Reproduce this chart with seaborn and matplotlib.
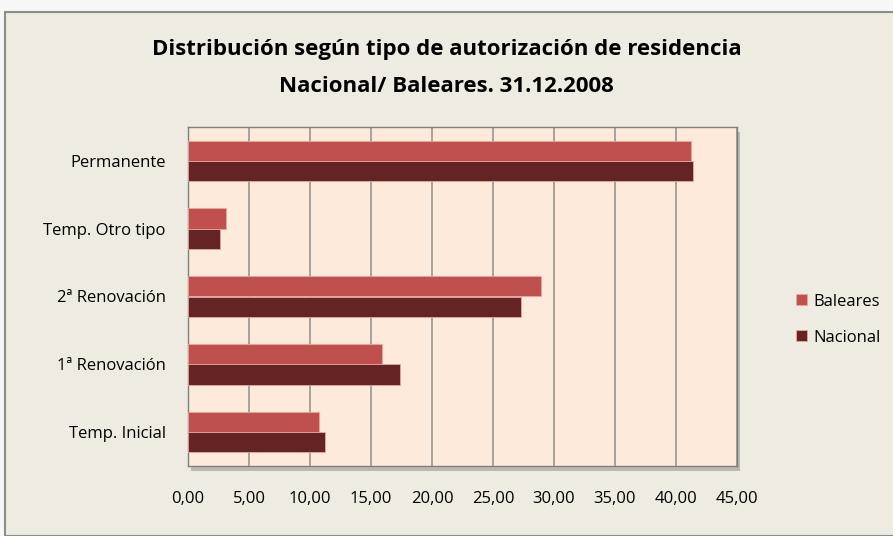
import matplotlib
matplotlib.use("Agg")
import matplotlib.pyplot as plt
from matplotlib.patches import Rectangle
from matplotlib.ticker import FuncFormatter
import seaborn as sns
import pandas as pd

# Values (percentages)
categories = ["Permanente", "Temp. Otro tipo", "2ª Renovación", "1ª Renovación", "Temp. Inicial"]
baleares = [41.2, 3.1, 28.9, 15.9, 10.7]
nacional = [41.4, 2.6, 27.3, 17.4, 11.2]
series = ["Baleares", "Nacional"]
colors = ["#C0504D", "#632423"]
x_ticks = [0, 5, 10, 15, 20, 25, 30, 35, 40, 45]

df = pd.DataFrame({
    "tipo": categories * 2,
    "valor": baleares + nacional,
    "serie": [series[0]] * len(categories) + [series[1]] * len(categories),
})

sns.set_style("white")
plt.rcParams["font.family"] = ["Open Sans", "DejaVu Sans"]
plt.rcParams["text.color"] = "black"
plt.rcParams["xtick.color"] = "black"
plt.rcParams["ytick.color"] = "black"

fig = plt.figure(figsize=(8.93, 5.36), dpi=100, facecolor="#F7F7F7")
# chart area background with grey frame
fig.patches.append(Rectangle((5 / 893, 0), 1.0, 1 - 12 / 536, transform=fig.transFigure,
                             facecolor="#EEECE1", edgecolor="#8C8C8C", lw=1.5, zorder=-2))
# soft shadow behind plot area
fig.patches.append(Rectangle((191 / 893, 1 - 471 / 536), 549 / 893, 339 / 536, transform=fig.transFigure,
                             facecolor="#9A9A92", edgecolor="none", alpha=0.6, zorder=-1))

ax = fig.add_axes([188 / 893, 1 - 466 / 536, 549 / 893, 339 / 536])
ax.set_facecolor("#FDEADA")

sns.barplot(data=df, x="valor", y="tipo", hue="serie", order=categories, hue_order=series,
            palette=colors, saturation=1, orient="h", width=0.6, ax=ax, legend=True,
            edgecolor="#E8A8A0", linewidth=0.6, zorder=3)

ax.set_xlim(0, 45)
ax.set_ylim(4.5, -0.5)
ax.set_xticks(x_ticks)
ax.xaxis.set_major_formatter(FuncFormatter(lambda v, p: f"{v:.2f}".replace(".", ",")))
ax.grid(axis="x", color="#A6A29C", lw=1.4, zorder=1)
ax.set_axisbelow(True)
ax.tick_params(axis="both", length=0, labelsize=12, labelcolor="black")
ax.tick_params(axis="x", pad=18)
ax.tick_params(axis="y", pad=16)
ax.set_xlabel("")
ax.set_ylabel("")
for s in ax.spines.values():
    s.set_color("#7F7F7F")
    s.set_linewidth(1.0)

leg = ax.legend(loc="center left", bbox_to_anchor=(1.08, 0.432), frameon=False,
                fontsize=12, handlelength=0.65, handleheight=0.65, handletextpad=0.4,
                labelspacing=1.2)

fig.text(0.5, 1 - 50 / 536, "Distribución según tipo de autorización de residencia",
         ha="center", va="center", fontsize=16, fontweight="bold")
fig.text(0.5, 1 - 86 / 536, "Nacional/ Baleares. 31.12.2008",
         ha="center", va="center", fontsize=16, fontweight="bold")

fig.savefig("out.png", dpi=100, facecolor=fig.get_facecolor())
